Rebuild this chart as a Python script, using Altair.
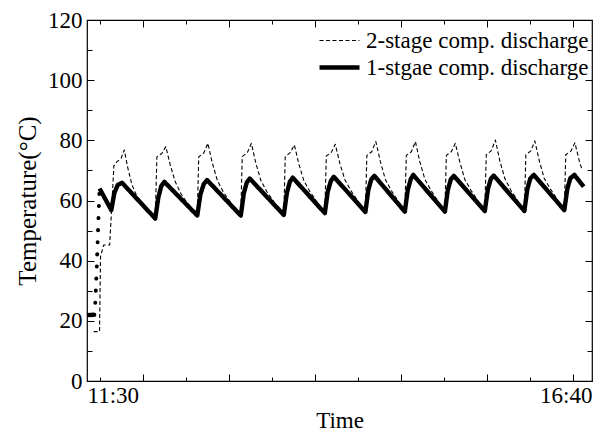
import altair as alt
import pandas as pd

FONT = "Liberation Serif"

# time axis: minutes after 11:30 (11:30 .. 16:40)
X_DOMAIN = [0, 310]
Y_DOMAIN = [0, 120]

series_names = ["2-stage comp. discharge", "1-stgae comp. discharge"]

# 2-stage compressor discharge temperature (dashed)
two_t = [4.1, 7.7, 8.3, 10.2, 13.9, 15.2, 16.5, 18.4, 20.9, 22.9, 24.9, 27.6, 30.7, 33.8, 37.6,
         41.9, 42.9, 45.9, 48.4, 51.1, 54.2, 57.9, 62.8,
         67.7, 68.6, 71.7, 74.2, 76.9, 80.0, 83.7, 88.6,
         94.4, 95.3, 98.4, 100.9, 103.6, 106.7, 110.4, 115.3,
         120.8, 121.7, 124.8, 127.3, 130.0, 133.1, 136.8, 141.7,
         146.0, 146.9, 150.0, 152.4, 155.2, 158.3, 162.0, 166.9,
         170.9, 171.8, 174.8, 177.3, 180.1, 183.1, 186.8, 191.7,
         195.1, 196.0, 199.1, 201.6, 204.3, 207.4, 211.1, 216.0,
         219.7, 220.6, 223.6, 226.1, 228.9, 231.9, 235.6, 240.5,
         244.2, 245.1, 248.2, 250.7, 253.4, 256.5, 260.2, 265.1,
         268.5, 269.4, 272.5, 274.9, 277.7, 280.7, 284.4, 289.3,
         293.0, 293.9, 297.0, 299.5, 302.2, 303.9]
two_v = [16.4, 16.4, 41.3, 45.2, 45.2, 58.0, 71.5, 72.9, 74.0, 76.8, 71.2, 65.2, 61.3, 59.4, 57.0,
         54.4, 74.5, 75.6, 77.9, 71.8, 66.2, 62.0, 58.3,
         55.3, 74.5, 75.8, 79.0, 72.5, 66.7, 62.8, 59.0,
         55.3, 74.6, 75.9, 79.0, 72.5, 66.7, 62.9, 59.1,
         55.5, 74.6, 75.9, 78.5, 72.2, 66.6, 63.0, 59.1,
         56.1, 74.8, 76.0, 78.7, 72.4, 66.9, 63.3, 59.3,
         56.5, 75.0, 76.2, 79.6, 72.9, 67.1, 63.3, 59.2,
         56.6, 75.0, 76.2, 79.6, 72.9, 67.1, 63.4, 59.3,
         56.6, 75.0, 76.2, 79.0, 72.7, 67.0, 63.5, 59.5,
         56.8, 75.2, 76.6, 80.1, 73.2, 67.3, 63.4, 59.3,
         56.8, 75.2, 76.5, 79.8, 73.1, 67.3, 63.9, 59.8,
         57.1, 75.2, 76.4, 79.2, 73.2, 70.2]

# 1-stage compressor discharge temperature (thick solid)
one_start_t = [0.0, 4.5]
one_start_v = [21.9, 22.0]
one_rise_t = [4.5, 5.1, 6.0, 6.9, 7.7]
one_rise_v = [22.0, 26.0, 38.0, 52.0, 64.0]
one_t = [7.7, 14.9, 16.8, 18.9, 21.5,
         41.9, 43.8, 45.6, 47.5, 67.7, 69.6, 71.7, 73.7,
         94.4, 96.3, 98.1, 99.9, 120.8, 122.7, 124.5, 126.3,
         146.0, 147.8, 149.7, 151.5, 170.9, 172.7, 174.5, 176.4,
         195.1, 196.9, 198.8, 200.3, 219.7, 221.5, 223.3, 225.2,
         244.2, 246.1, 247.9, 249.7, 268.5, 270.3, 272.1, 274.3,
         293.0, 294.9, 296.7, 299.2, 304.9]
one_v = [64.0, 56.8, 62.5, 65.2, 65.9,
         54.0, 61.0, 64.8, 66.2, 55.0, 62.0, 65.5, 66.8,
         55.0, 62.5, 66.0, 67.3, 55.2, 62.5, 66.2, 67.6,
         55.8, 63.0, 66.5, 67.9, 56.2, 63.5, 67.0, 68.2,
         56.3, 63.5, 67.2, 68.5, 56.3, 63.5, 67.0, 68.2,
         56.5, 63.8, 67.2, 68.3, 56.5, 63.8, 67.3, 68.5,
         56.8, 64.0, 67.4, 68.5, 64.6]

# axis ticks / labels
y_major = [0, 20, 40, 60, 80, 100, 120]
y_minor = [10, 30, 50, 70, 90, 110]
x_major = [34.6, 87.4, 140.2, 193.0, 245.7, 298.5]
x_minor = [8.2, 61.0, 113.8, 166.6, 219.4, 272.1]
x_label_values = [0, 310]
x_label_text = ["11:30", "16:40"]

df = pd.concat([
    pd.DataFrame({"t": two_t, "v": two_v, "series": series_names[0]}),
    pd.DataFrame({"t": one_t, "v": one_v, "series": series_names[1]}),
], ignore_index=True)
df_start = pd.DataFrame({"t": one_start_t, "v": one_start_v})
df_rise = pd.DataFrame({"t": one_rise_t, "v": one_rise_v})

xs = alt.Scale(domain=X_DOMAIN, nice=False, zero=False)
ys = alt.Scale(domain=Y_DOMAIN, nice=False, zero=False)

label_expr = f"datum.value == {x_label_values[0]} ? '{x_label_text[0]}' : '{x_label_text[1]}'"

# long horizontal legend stroke: path spans 4 units, scaled by sqrt(size)/2
legend = alt.Legend(
    title=None, orient="none", legendX=240, legendY=9,
    symbolType="M-2,0H2", symbolSize=400, labelFont=FONT, labelFontSize=23,
    labelColor="black", labelOffset=14, rowPadding=2, padding=0, labelLimit=0,
    symbolStrokeColor="black", symbolFillColor="transparent",
)

main = alt.Chart(df).mark_line(strokeJoin="round").encode(
    x=alt.X("t:Q", scale=xs, axis=alt.Axis(
        values=x_label_values, labelExpr=label_expr, labelFlush=True, ticks=False,
        domain=False, grid=False, title="Time", labelPadding=3, titlePadding=2,
        labelFont=FONT, titleFont=FONT, orient="bottom")),
    y=alt.Y("v:Q", scale=ys, axis=alt.Axis(
        values=y_major, ticks=False, domain=False, grid=False,
        title="Temperature(°C)", labelPadding=5, titlePadding=7, titleFontSize=25,
        labelFont=FONT, titleFont=FONT, orient="left")),
    color=alt.Color("series:N", scale=alt.Scale(domain=series_names, range=["black", "black"]), legend=legend),
    strokeDash=alt.StrokeDash("series:N", scale=alt.Scale(domain=series_names, range=[[4, 2.5], [1, 0]]), legend=legend),
    strokeWidth=alt.StrokeWidth("series:N", scale=alt.Scale(domain=series_names, range=[1.1, 4.4]), legend=legend),
)

start = alt.Chart(df_start).mark_line(color="black", strokeWidth=4.4).encode(
    x=alt.X("t:Q", scale=xs, axis=None), y=alt.Y("v:Q", scale=ys, axis=None))
rise = alt.Chart(df_rise).mark_line(color="black", strokeWidth=4, strokeDash=[0.1, 12], strokeCap="round").encode(
    x=alt.X("t:Q", scale=xs, axis=None), y=alt.Y("v:Q", scale=ys, axis=None))


def tick_layer(xvals, xorient, xsize, yvals, yorient, ysize):
    return alt.Chart(df_start).mark_line(opacity=0).encode(
        x=alt.X("t:Q", scale=xs, axis=alt.Axis(
            values=xvals, orient=xorient, offset=-xsize, tickSize=xsize, labels=False,
            domain=False, grid=False, title=None, tickColor="black", tickWidth=1)),
        y=alt.Y("v:Q", scale=ys, axis=alt.Axis(
            values=yvals, orient=yorient, offset=-ysize, tickSize=ysize, labels=False,
            domain=False, grid=False, title=None, tickColor="black", tickWidth=1)),
    )


chart = alt.layer(
    main, start, rise,
    tick_layer(x_major, "bottom", 7, y_major, "left", 7),
    tick_layer(x_minor, "bottom", 4, y_minor, "left", 5),
    tick_layer(x_major, "top", 7, y_major, "right", 7),
    tick_layer(x_minor, "top", 4, y_minor, "right", 5),
).resolve_axis(x="independent", y="independent").properties(
    width=505, height=361,
    autosize=alt.AutoSizeParams(type="none"),
    padding={"left": 79, "top": 12, "right": 8, "bottom": 56},
    background="white",
).configure_view(stroke="black", strokeWidth=1.2).configure_axis(
    labelFont=FONT, titleFont=FONT, labelFontSize=23, titleFontSize=23,
    labelColor="black", titleColor="black", titleFontWeight="normal",
).configure_legend(labelFont=FONT)

chart.save("out.html", embed_options={"renderer": "svg", "actions": False})
